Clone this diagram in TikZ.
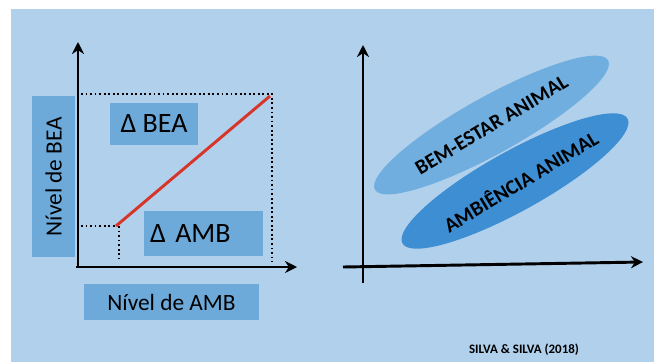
\documentclass[tikz,border=0pt]{standalone}
\usepackage{fontspec}
\setmainfont{Carlito}
\usetikzlibrary{arrows.meta, positioning, shapes.geometric}
\definecolor{bgblue}{HTML}{B0D0EB}
\definecolor{boxblue}{HTML}{6DAADA}
\definecolor{zonelight}{HTML}{6FAEDF}
\definecolor{zonedark}{HTML}{3D8ED2}
\definecolor{linered}{HTML}{D8352A}

\begin{document}
\begin{tikzpicture}[
  x=0.75pt, y=-0.75pt,
  every node/.style={font=\fontsize{17.5}{21}\selectfont},
  axis/.style={line width=2.2pt, -{Stealth[length=9pt, width=9pt]}},
  guide/.style={line width=1.4pt, dotted},
  labelbox/.style={rectangle, fill=boxblue, inner sep=0pt},
  deltabox/.style={labelbox, font=\fontsize{21}{25}\selectfont},
  zone/.style={ellipse, inner sep=0pt, rotate=29},
  zonetext/.style={rotate=31, font=\fontsize{15.5}{18}\selectfont\bfseries},
]
\useasboundingbox (0,0) rectangle (654,362);
\fill[bgblue] (11,9) rectangle (654,362);

% left chart
\node[labelbox, minimum width=120.75pt, minimum height=32.25pt, rotate=90] (ylab) at (53.5,176.5) {Nível de BEA};
\node[labelbox, minimum width=131.25pt, minimum height=27pt] (xlab) at (171.5,302) {Nível de AMB};
\node[deltabox, minimum width=66pt, minimum height=31.5pt] (dbea) at (154,124) {Δ BEA};
\node[deltabox, minimum width=89.25pt, minimum height=33.75pt, text width=80pt] (damb) at (203.5,233.5) {Δ AMB};

\coordinate (lo) at (116,226);
\coordinate (hi) at (270,96);
\draw[guide] (81,94) -- (272,94) -- (272,262);
\draw[guide] (81,226) -- (lo);
\draw[guide] (119,226) -- (119,258);
\draw[linered, line width=2.2pt] (lo) -- (hi);

\draw[axis] (78,268) -- (78,42);
\draw[axis] (76,267) -- (297,267);

% right chart
\node[zone, fill=zonelight, minimum width=200pt, minimum height=43pt] (bea) at (491.5,125) {};
\node[zone, fill=zonedark, minimum width=193pt, minimum height=45pt] (amb) at (515,181) {};
\node[zonetext] (beatxt) at (bea.center) {BEM-ESTAR ANIMAL};
\node[zonetext] (ambtxt) at ([xshift=4pt]amb.center) {AMBIÊNCIA ANIMAL};

\draw[axis] (363,283) -- (363,45);
\draw[axis] (343,267) -- (643,262);

\node[font=\fontsize{9.7}{12}\selectfont\bfseries] (fonte) at (524,350) {SILVA \& SILVA (2018)};
\end{tikzpicture}
\end{document}
